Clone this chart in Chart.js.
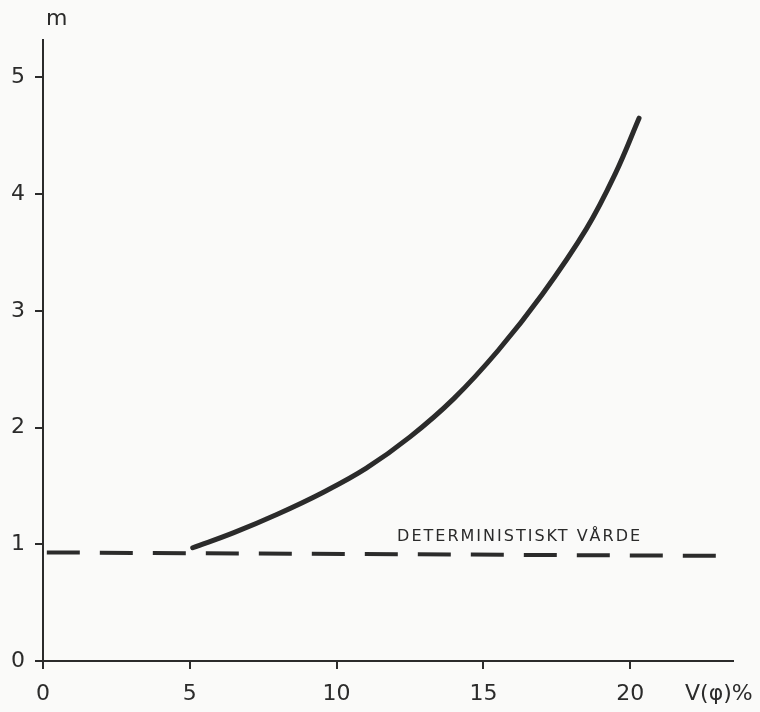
<!DOCTYPE html>
<html>
<head>
<meta charset="utf-8">
<script src="https://cdn.jsdelivr.net/npm/chart.js@4.4.1/dist/chart.umd.min.js"></script>
<style>
  html, body { margin: 0; padding: 0; background: #fafaf9; }
  #wrap { width: 760px; height: 712px; position: relative; }
</style>
</head>
<body>
<div id="wrap"><canvas id="mChart"></canvas></div>
<script>
// V(phi) in percent and the resulting m
var vPhi = [5.1, 6.5, 8.0, 9.5, 11.0, 12.5, 14.0, 15.5, 17.0, 18.5, 19.5, 20.3];
var mVal = [0.97, 1.10, 1.26, 1.44, 1.65, 1.92, 2.25, 2.66, 3.14, 3.70, 4.18, 4.65];

// deterministic value, drawn as a dashed line
var detX = [0.13, 23.5];
var detY = [0.93, 0.90];

var xTicks = [0, 5, 10, 15, 20];
var yTicks = [0, 1, 2, 3, 4, 5];

var ink = '#2b2b2b';
var handFont = '"DejaVu Sans", sans-serif';

function pts(xs, ys) {
  var out = [];
  for (var i = 0; i < xs.length; i++) out.push({ x: xs[i], y: ys[i] });
  return out;
}

// extra labels: axis names and the text over the dashed line
var labelPlugin = {
  id: 'labels',
  afterDatasetsDraw: function(chart) {
    var ctx = chart.ctx;
    var sx = chart.scales.x, sy = chart.scales.y;
    ctx.save();
    ctx.fillStyle = ink;
    ctx.textBaseline = 'middle';

    ctx.font = '22px ' + handFont;
    ctx.textAlign = 'left';
    ctx.fillText('m', 46, 19);
    ctx.fillText('V(φ)%', 685, 694);

    ctx.font = '16px ' + handFont;
    ctx.letterSpacing = '2px';
    ctx.fillText('DETERMINISTISKT VÅRDE', sx.getPixelForValue(12.06), sy.getPixelForValue(1.06));
    ctx.restore();
  }
};

function keepTicks(list) {
  return function(scale) {
    scale.ticks = list.map(function(v) { return { value: v }; });
  };
}

new Chart(document.getElementById('mChart'), {
  type: 'scatter',
  data: {
    datasets: [
      {
        data: pts(vPhi, mVal),
        showLine: true,
        borderColor: ink,
        borderWidth: 5,
        pointRadius: 0,
        tension: 0.4,
        borderCapStyle: 'round'
      },
      {
        data: pts(detX, detY),
        showLine: true,
        borderColor: ink,
        borderWidth: 4,
        borderDash: [33, 20],
        pointRadius: 0
      }
    ]
  },
  options: {
    responsive: true,
    maintainAspectRatio: false,
    animation: false,
    layout: { padding: { left: 0, right: 27, top: 40, bottom: 0 } },
    plugins: { legend: { display: false }, tooltip: { enabled: false } },
    scales: {
      x: {
        type: 'linear',
        min: 0,
        max: 23.5,
        afterBuildTicks: keepTicks(xTicks),
        afterFit: function(s) { s.height = 51; },
        border: { color: ink, width: 2 },
        grid: { drawOnChartArea: false, drawTicks: true, tickLength: 8, color: ink, lineWidth: 2 },
        ticks: { color: ink, padding: 12, font: { family: handFont, size: 22 }, maxRotation: 0 }
      },
      y: {
        type: 'linear',
        min: 0,
        max: 5.32,
        afterBuildTicks: keepTicks(yTicks),
        afterFit: function(s) { s.width = 43; },
        border: { color: ink, width: 2 },
        grid: { drawOnChartArea: false, drawTicks: true, tickLength: 8, color: ink, lineWidth: 2 },
        ticks: { color: ink, padding: 10, font: { family: handFont, size: 22 } }
      }
    }
  },
  plugins: [labelPlugin]
});
</script>
</body>
</html>
